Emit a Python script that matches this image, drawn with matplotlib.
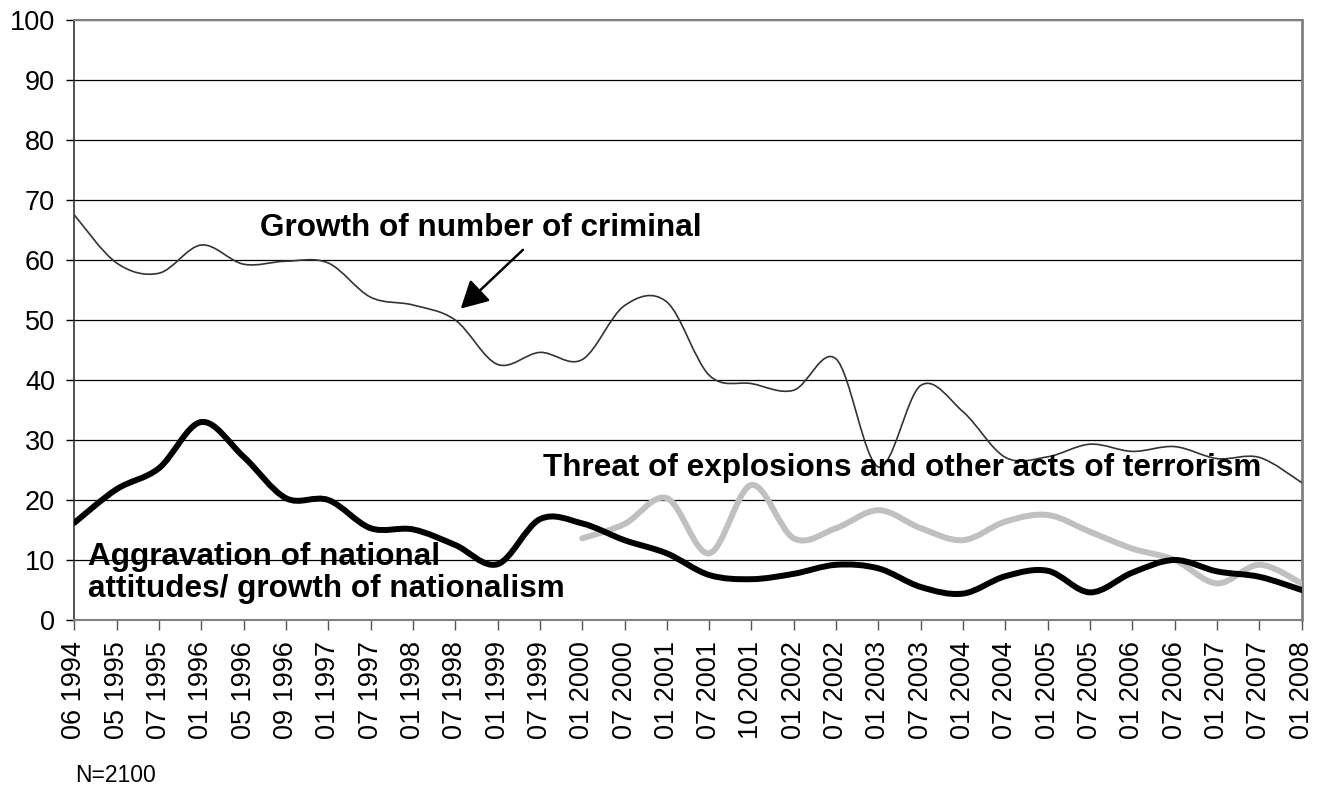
import matplotlib
matplotlib.use("Agg")
import matplotlib.pyplot as plt
from matplotlib.path import Path
from matplotlib.patches import PathPatch

plt.rcParams['font.family'] = ['Liberation Sans', 'DejaVu Sans']

# survey waves
waves = ["06 1994", "05 1995", "07 1995", "01 1996", "05 1996", "09 1996",
         "01 1997", "07 1997", "01 1998", "07 1998", "01 1999", "07 1999",
         "01 2000", "07 2000", "01 2001", "07 2001", "10 2001", "01 2002",
         "07 2002", "01 2003", "07 2003", "01 2004", "07 2004", "01 2005",
         "07 2005", "01 2006", "07 2006", "01 2007", "07 2007", "01 2008"]

criminal = [67.5, 59.5, 57.8, 62.5, 59.3, 59.8, 59.5, 53.8, 52.5, 50.0,
            42.6, 44.6, 43.4, 52.4, 53.0, 40.8, 39.4, 38.3, 43.5, 25.5,
            39.1, 34.7, 27.1, 27.2, 29.3, 28.1, 28.9, 26.9, 27.1, 22.9]

nationalism = [16.2, 21.8, 25.3, 33.0, 27.2, 20.3, 20.0, 15.3, 15.1, 12.5,
               9.3, 16.8, 16.1, 13.3, 11.1, 7.5, 6.8, 7.7, 9.2, 8.6,
               5.5, 4.4, 7.3, 8.2, 4.6, 7.9, 10.0, 8.1, 7.2, 5.0]

# terrorism question asked from 01 2000 on
terror_start = 12
terrorism = [13.6, 16.0, 20.3, 11.1, 22.5, 13.6, 15.3, 18.3, 15.3, 13.3,
             16.4, 17.5, 14.7, 11.9, 10.0, 6.1, 9.2, 6.1]


def smooth_path(xs, ys):
    # Excel-like smoothed line: cubic bezier through every data point
    pts = list(zip(xs, ys))
    verts = [pts[0]]
    codes = [Path.MOVETO]
    n = len(pts)
    for i in range(n - 1):
        p0 = pts[max(i - 1, 0)]
        p1 = pts[i]
        p2 = pts[i + 1]
        p3 = pts[min(i + 2, n - 1)]
        c1 = (p1[0] + (p2[0] - p0[0]) / 6, p1[1] + (p2[1] - p0[1]) / 6)
        c2 = (p2[0] - (p3[0] - p1[0]) / 6, p2[1] - (p3[1] - p1[1]) / 6)
        verts += [c1, c2, p2]
        codes += [Path.CURVE4] * 3
    return Path(verts, codes)


fig = plt.figure(figsize=(13.25, 7.91), dpi=100)
ax = fig.add_axes([0.0561, 0.2162, 0.9263, 0.7585])

x = list(range(len(waves)))
ax.add_patch(PathPatch(smooth_path(x, criminal), fill=False, color='#333333',
                       lw=1.2, capstyle='round', joinstyle='round', zorder=3))
ax.add_patch(PathPatch(smooth_path(x[terror_start:], terrorism), fill=False,
                       color='#c0c0c0', lw=4.3, capstyle='round',
                       joinstyle='round', zorder=4))
ax.add_patch(PathPatch(smooth_path(x, nationalism), fill=False, color='black',
                       lw=4.3, capstyle='round', joinstyle='round', zorder=5))

ax.set_xlim(0, len(waves) - 1)
ax.set_ylim(0, 100)
ax.set_yticks(range(0, 101, 10))
ax.set_xticks(x)
ax.set_xticklabels(waves, rotation=90, fontsize=19.5)
ax.tick_params(axis='y', labelsize=19.5, direction='out', length=6, width=1,
               pad=8)
ax.tick_params(axis='x', direction='out', length=7, width=1, pad=8,
               color='#555555')
ax.yaxis.grid(True, color='black', lw=0.9)
ax.set_axisbelow(True)

for side in ['top', 'right', 'bottom']:
    ax.spines[side].set_color('#808080')
    ax.spines[side].set_linewidth(1.5)
ax.spines['right'].set_linewidth(2)
ax.spines['left'].set_color('#333333')
ax.spines['left'].set_linewidth(1.2)

bold = dict(fontsize=22.7, fontweight='bold', color='black', zorder=6)
ax.text(4.39, 65.3, "Growth of number of criminal", ha='left', va='center', **bold)
ax.annotate("", xy=(9.13, 51.9), xytext=(10.6, 61.7),
            arrowprops=dict(arrowstyle='-|>,head_length=1.66,head_width=0.9',
                            color='black', lw=1.8, shrinkA=0, shrinkB=0))
ax.text(11.07, 25.3, "Threat of explosions and other acts of terrorism",
        ha='left', va='center', **bold)
ax.text(0.32, 7.8, "Aggravation of national\nattitudes/ growth of nationalism",
        ha='left', va='center', linespacing=1.1, **bold)

fig.text(75 / 1325, 1 - 775 / 791, "N=2100", fontsize=16.5, ha='left',
         va='center')

fig.savefig("out.png", dpi=100)
